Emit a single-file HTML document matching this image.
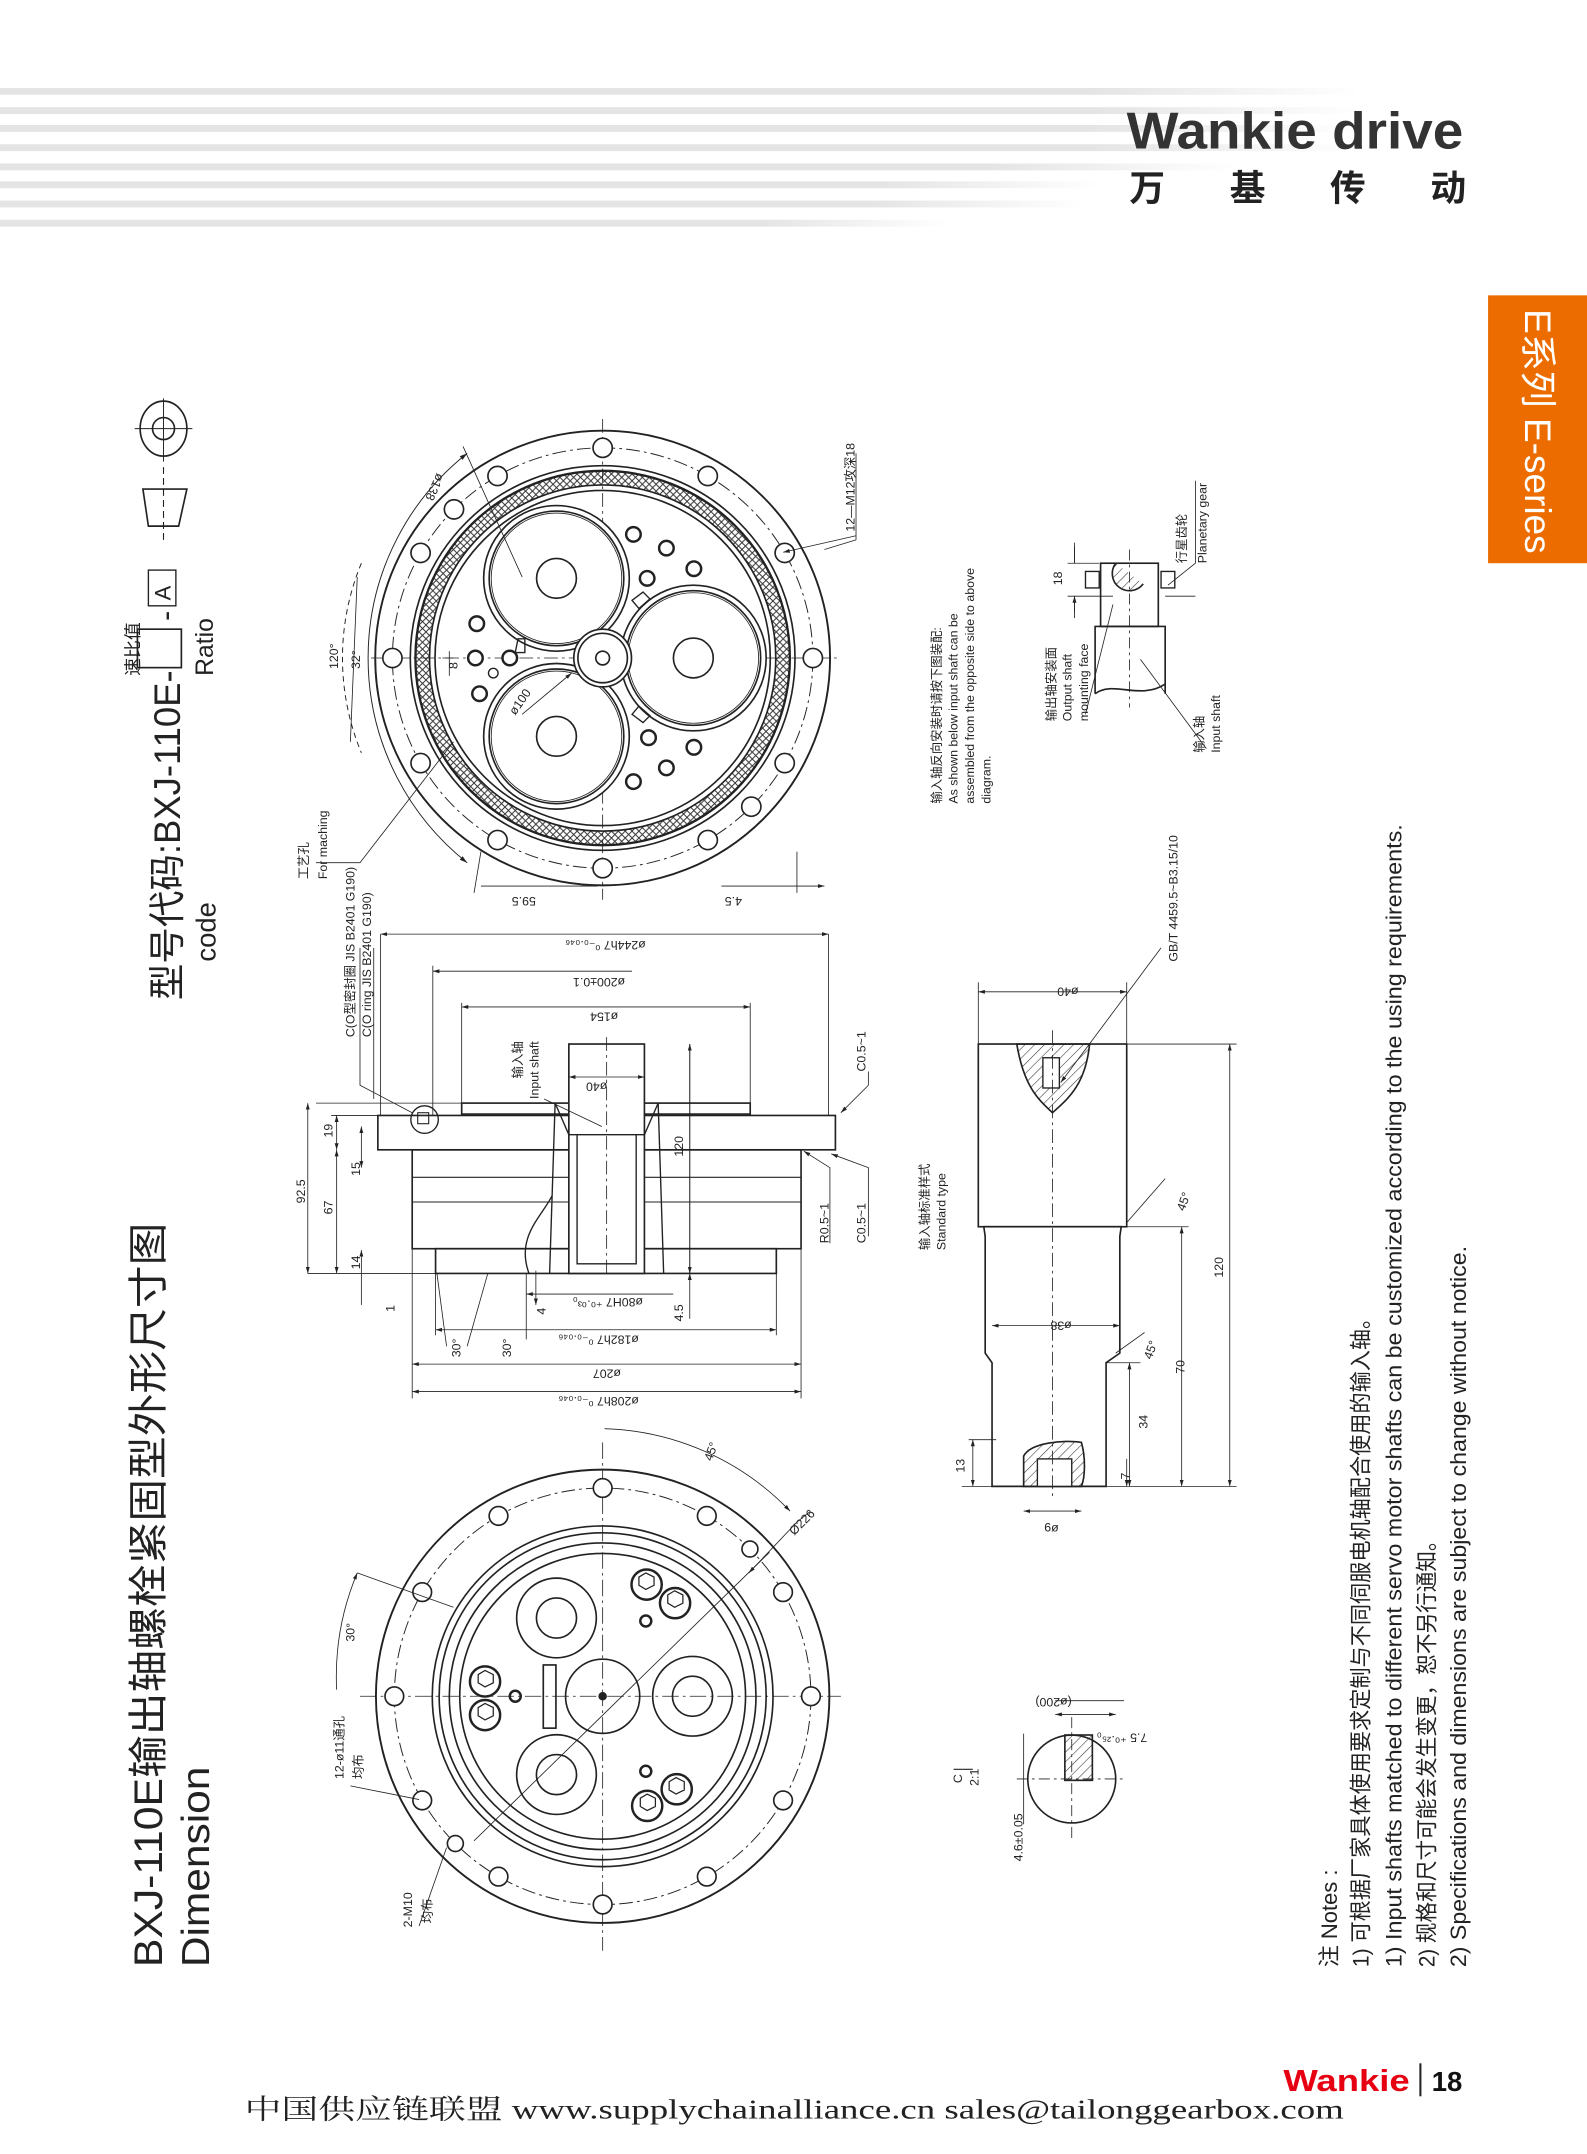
<!DOCTYPE html>
<html><head><meta charset="utf-8"><style>
html,body{margin:0;padding:0;background:#fff}
svg{display:block}
text{font-family:"Liberation Sans","Noto Sans CJK SC",sans-serif;fill:#222}
</style></head><body>
<svg width="1587" height="2154" viewBox="0 0 1155 1568" preserveAspectRatio="none" xmlns="http://www.w3.org/2000/svg">
<defs>
<linearGradient id="sg" x1="0" x2="1" y1="0" y2="0"><stop offset="0" stop-color="#e4e4e4"/><stop offset="0.8" stop-color="#e4e4e4"/><stop offset="1" stop-color="#e4e4e4" stop-opacity="0"/></linearGradient>
<pattern id="hatch" width="5" height="5" patternUnits="userSpaceOnUse"><path d="M0 0L5 5M5 0L0 5" stroke="#333" stroke-width="0.7"/></pattern>
<pattern id="diag" width="5" height="5" patternUnits="userSpaceOnUse" patternTransform="rotate(45)"><path d="M0 0V5" stroke="#333" stroke-width="0.8"/></pattern>
<marker id="ar" viewBox="0 0 10 6" refX="10" refY="3" markerWidth="8" markerHeight="5" orient="auto-start-reverse"><path d="M0 0L10 3L0 6z" fill="#222"/></marker>
</defs>
<!-- header stripes -->
<g fill="url(#sg)">
<rect x="0" y="64" width="990" height="5"/><rect x="0" y="78" width="990" height="5"/><rect x="0" y="91" width="990" height="5"/><rect x="0" y="105" width="990" height="5"/>
<rect x="0" y="119" width="900" height="5"/><rect x="0" y="132" width="800" height="5"/><rect x="0" y="146" width="790" height="5"/><rect x="0" y="160" width="690" height="5"/>
</g>
<text x="820" y="108" font-size="38" font-weight="bold" fill="#333" textLength="245" lengthAdjust="spacingAndGlyphs" style="fill:#333">Wankie drive</text>
<g font-size="26" font-weight="bold" style="fill:#333"><text x="822" y="146">万</text><text x="895" y="146">基</text><text x="968" y="146">传</text><text x="1041" y="146">动</text></g>
<!-- orange tab -->
<rect x="1083" y="215" width="72" height="195" fill="#ec6c00"/>
<text transform="translate(1110,225) rotate(90)" font-size="27" style="fill:#fff" textLength="178" lengthAdjust="spacingAndGlyphs">E系列  E-series</text>

<!-- titles -->
<text transform="translate(118,1432) rotate(-90)" font-size="29" textLength="542" lengthAdjust="spacingAndGlyphs">BXJ-110E输出轴螺栓紧固型外形尺寸图</text>
<text transform="translate(152,1432) rotate(-90)" font-size="28" textLength="146" lengthAdjust="spacingAndGlyphs">Dimension</text>
<text transform="translate(131,728) rotate(-90)" font-size="27" textLength="240" lengthAdjust="spacingAndGlyphs">型号代码:BXJ-110E-</text>
<rect x="100" y="458" width="32" height="28" fill="none" stroke="#222" stroke-width="1.2"/>
<text transform="translate(128,452) rotate(-90)" font-size="22">-</text>
<rect x="108" y="415" width="20" height="26" fill="none" stroke="#222" stroke-width="1"/>
<text transform="translate(124,437) rotate(-90)" font-size="16">A</text>
<text transform="translate(157,700) rotate(-90)" font-size="20">code</text>
<text transform="translate(155,492) rotate(-90)" font-size="18">Ratio</text>
<text transform="translate(101,492) rotate(-90)" font-size="13">速比值</text>
<!-- symbols -->
<g stroke="#222" fill="none" stroke-width="1.2">
<ellipse cx="119" cy="312" rx="17" ry="20"/><circle cx="119" cy="312" r="8"/>
<path d="M98 312H140M119 290V336" stroke-width="0.7"/>
<path d="M104 356L136 356L130 383L108 383Z"/>
<path d="M119 340V395" stroke-dasharray="5 3" stroke-width="0.8"/>
</g>

<!-- TOP VIEW -->
<g stroke="#222" fill="none" stroke-width="1.2">
<circle cx="438.6" cy="479" r="165.5" stroke-width="1.4"/>
<circle cx="438.6" cy="479" r="153" stroke-width="0.7" stroke-dasharray="10 3 2 3"/>
<circle cx="438.6" cy="479" r="140"/>
<circle cx="438.6" cy="479" r="136.5"/>
<circle cx="438.6" cy="479" r="131" stroke="url(#hatch)" stroke-width="10"/>
<circle cx="438.6" cy="479" r="136"/>
<circle cx="438.6" cy="479" r="126"/>
<circle cx="438.6" cy="479" r="122"/>
<path d="M270 479H612M438.6 305V655" stroke-width="0.6" stroke-dasharray="10 3 2 3"/>
<g fill="#fff">
<circle cx="591.6" cy="479" r="7"/><circle cx="571.1" cy="402.5" r="7"/><circle cx="515.1" cy="346.5" r="7"/><circle cx="438.6" cy="326" r="7"/><circle cx="362.1" cy="346.5" r="7"/><circle cx="306.1" cy="402.5" r="7"/><circle cx="285.6" cy="479" r="7"/><circle cx="306.1" cy="555.5" r="7"/><circle cx="362.1" cy="611.5" r="7"/><circle cx="438.6" cy="632" r="7"/><circle cx="515.1" cy="611.5" r="7"/><circle cx="571.1" cy="555.5" r="7"/><circle cx="330.4" cy="370.8" r="7"/><circle cx="546.8" cy="587.2" r="7"/>
</g>
<g fill="#fff">
<circle cx="405" cy="421" r="53"/><circle cx="405" cy="421" r="49"/><circle cx="405" cy="421" r="47.5" stroke-width="0.6"/>
<circle cx="504.6" cy="479" r="53"/><circle cx="504.6" cy="479" r="49"/><circle cx="504.6" cy="479" r="47.5" stroke-width="0.6"/>
<circle cx="405" cy="536" r="53"/><circle cx="405" cy="536" r="49"/><circle cx="405" cy="536" r="47.5" stroke-width="0.6"/>
</g>
<circle cx="405" cy="421" r="14.5"/><circle cx="504.6" cy="479" r="14.5"/><circle cx="405" cy="536" r="14.5"/>
<circle cx="438.6" cy="479" r="21" fill="#fff"/><circle cx="438.6" cy="479" r="18"/><circle cx="438.6" cy="479" r="5"/>
<g stroke-width="1.8" fill="#fff">
<circle cx="461" cy="389" r="5.3"/><circle cx="485" cy="399" r="5.3"/><circle cx="505" cy="414" r="5.3"/><circle cx="471" cy="421" r="5.3"/>
<circle cx="347" cy="454" r="5.3"/><circle cx="346" cy="479" r="5.3"/><circle cx="371" cy="479" r="5.3"/><circle cx="349" cy="505" r="5.3"/><circle cx="359" cy="490" r="3.5" stroke-width="1"/>
<circle cx="472" cy="537" r="5.3"/><circle cx="505" cy="544" r="5.3"/><circle cx="485" cy="559" r="5.3"/><circle cx="461" cy="569" r="5.3"/>
</g>
<path d="M375 475h7v-10h-5z M460 437l8 -6 5 5 -8 7z M460 520l8 6 5 -5 -8 -7z" stroke-width="1"/>
<!-- dimension arcs -->
<path d="M340 330 A190 190 0 0 0 340 628" stroke-width="0.7" marker-start="url(#ar)" marker-end="url(#ar)"/>
<path d="M263 410 A180 180 0 0 0 263 548" stroke-width="0.7" stroke-dasharray="4 3"/>
<path d="M260 420 L255 540" stroke-width="0.6"/>
<path d="M337 325L380 420M600 400L623 393M623 393V330M350 620L345 650M580 620L580 650" stroke-width="0.6"/>
<path d="M350 645H435M525 645H600" stroke-width="0.6" marker-end="url(#ar)"/>
<path d="M570 402L623 390" stroke-width="0.6" marker-start="url(#ar)"/>
<path d="M327 474V492M330 479h-8" stroke-width="0.6"/>
<path d="M380 520L416 490" stroke-width="0.6" marker-end="url(#ar)"/>
<path d="M230 628L262 628L330 540" stroke-width="0.6"/>
</g>
<g font-size="9">
<text transform="translate(318,344) rotate(115)">ø138</text>
<text transform="translate(246,487) rotate(-90)">120°</text>
<text transform="translate(262,487) rotate(-90)">32°</text>
<text transform="translate(333,487) rotate(-90)">8</text>
<text transform="translate(375,521) rotate(-55)">ø100</text>
<text transform="translate(390,653) rotate(180)">59.5</text>
<text transform="translate(540,653) rotate(180)">4.5</text>
<text transform="translate(622,387) rotate(-90)">12—M12攻深18</text>
<text transform="translate(224,640) rotate(-90)">工艺孔</text>
<text transform="translate(238,640) rotate(-90)">For maching</text>
</g>

<!-- SIDE VIEW -->
<g stroke="#222" fill="none" stroke-width="1.2">
<rect x="275" y="812" width="333" height="25"/>
<rect x="300" y="837" width="283" height="72"/>
<rect x="317" y="909" width="248" height="18"/>
<rect x="336" y="803" width="210" height="8"/>
<path d="M300 857H583M300 875H583" stroke-width="0.8"/>
<rect x="414" y="760" width="55" height="167" fill="#fff"/>
<path d="M414 826H469M420 826V920H463V826M404 803L414 826M479 803L469 826M404 803L400 927M479 803L483 927M385 927C375 900 395 885 402 870" stroke-width="1"/>
<path d="M441.5 755V930" stroke-width="0.6" stroke-dasharray="10 3 2 3"/>
<circle cx="309" cy="815" r="10" stroke-width="1"/><rect x="304" y="810" width="8" height="8" stroke-width="0.8"/>
<g stroke-width="0.6">
<path d="M277 812V680M603 812V680M315 812V703M336 803V730M546 803V730M317 927V972M565 927V972M300 909V1018M583 909V1018M383 927V975M502 760V927M230 803H336M241 812H275M224 927H317"/>
<path d="M277 680H603" marker-start="url(#ar)" marker-end="url(#ar)"/>
<path d="M315 707H460" marker-start="url(#ar)"/>
<path d="M336 733H546" marker-start="url(#ar)" marker-end="url(#ar)"/>
<path d="M414 784H469" marker-start="url(#ar)" marker-end="url(#ar)"/>
<path d="M383 942H490" marker-start="url(#ar)"/>
<path d="M317 968H565" marker-start="url(#ar)" marker-end="url(#ar)"/>
<path d="M300 993H583" marker-start="url(#ar)" marker-end="url(#ar)"/>
<path d="M300 1013H583" marker-start="url(#ar)" marker-end="url(#ar)"/>
<path d="M224 803V927" marker-start="url(#ar)" marker-end="url(#ar)"/>
<path d="M245 812V837" marker-start="url(#ar)" marker-end="url(#ar)"/>
<path d="M245 837V927" marker-start="url(#ar)" marker-end="url(#ar)"/>
<path d="M263 820V850" marker-start="url(#ar)" marker-end="url(#ar)"/>
<path d="M263 910V950" marker-start="url(#ar)"/>
<path d="M502 760V927" marker-start="url(#ar)" marker-end="url(#ar)"/>
<path d="M502 927V960" marker-start="url(#ar)"/>
<path d="M390 925V950" marker-end="url(#ar)"/>
<path d="M318 927L325 980M355 927L340 980"/>
<path d="M632 790V780M632 790L612 810" marker-end="url(#ar)"/>
<path d="M632 900V850L605 840" marker-end="url(#ar)"/>
<path d="M604 905V850L585 838" marker-end="url(#ar)"/>
<path d="M262 690V790L300 810M272 690V800"/>
<path d="M396 800L438 820"/>
</g>
</g>
<g font-size="9">
<text transform="translate(470,685) rotate(180)">ø244h7 ⁰₋₀.₀₄₆</text>
<text transform="translate(455,712) rotate(180)">ø200±0.1</text>
<text transform="translate(450,737) rotate(180)">ø154</text>
<text transform="translate(442,788) rotate(180)">ø40</text>
<text transform="translate(468,945) rotate(180)">ø80H7 ⁺⁰·⁰³₀</text>
<text transform="translate(465,972) rotate(180)">ø182h7 ⁰₋₀.₀₄₆</text>
<text transform="translate(452,997) rotate(180)">ø207</text>
<text transform="translate(465,1017) rotate(180)">ø208h7 ⁰₋₀.₀₄₆</text>
<text transform="translate(222,876) rotate(-90)">92.5</text>
<text transform="translate(242,884) rotate(-90)">67</text>
<text transform="translate(242,828) rotate(-90)">19</text>
<text transform="translate(262,856) rotate(-90)">15</text>
<text transform="translate(262,924) rotate(-90)">14</text>
<text transform="translate(287,955) rotate(-90)">1</text>
<text transform="translate(397,957) rotate(-90)">4</text>
<text transform="translate(497,962) rotate(-90)">4.5</text>
<text transform="translate(497,842) rotate(-90)">120</text>
<text transform="translate(335,988) rotate(-90)">30°</text>
<text transform="translate(372,988) rotate(-90)">30°</text>
<text transform="translate(258,755) rotate(-90)">C(O型密封圈 JIS B2401 G190)</text>
<text transform="translate(270,755) rotate(-90)">C(O ring JIS B2401 G190)</text>
<text transform="translate(380,785) rotate(-90)">输入轴</text>
<text transform="translate(392,800) rotate(-90)">Input shaft</text>
<text transform="translate(630,780) rotate(-90)">C0.5~1</text>
<text transform="translate(630,905) rotate(-90)">C0.5~1</text>
<text transform="translate(603,905) rotate(-90)">R0.5~1</text>
</g>

<!-- BOTTOM VIEW -->
<g stroke="#222" fill="none" stroke-width="1.2">
<circle cx="438.6" cy="1234.8" r="165" stroke-width="1.4"/>
<circle cx="438.6" cy="1234.8" r="151.6" stroke-width="0.7" stroke-dasharray="10 3 2 3"/>
<circle cx="438.6" cy="1234.8" r="124"/><circle cx="438.6" cy="1234.8" r="119"/><circle cx="438.6" cy="1234.8" r="111.6"/><circle cx="438.6" cy="1234.8" r="104"/>
<path d="M262 1234.8H612M438.6 1050V1420" stroke-width="0.6" stroke-dasharray="12 3 2 3"/>
<g fill="#fff">
<circle cx="590.2" cy="1234.8" r="6.8"/><circle cx="569.9" cy="1159" r="6.8"/><circle cx="514.4" cy="1103.5" r="6.8"/><circle cx="438.6" cy="1083.2" r="6.8"/><circle cx="362.8" cy="1103.5" r="6.8"/><circle cx="307.3" cy="1159" r="6.8"/><circle cx="287" cy="1234.8" r="6.8"/><circle cx="307.3" cy="1310.6" r="6.8"/><circle cx="362.8" cy="1366.1" r="6.8"/><circle cx="438.6" cy="1386.4" r="6.8"/><circle cx="514.4" cy="1366.1" r="6.8"/><circle cx="569.9" cy="1310.6" r="6.8"/><circle cx="545.8" cy="1127.6" r="5.8"/><circle cx="331.4" cy="1342" r="5.8"/>
</g>
<circle cx="438.6" cy="1234.8" r="27"/><circle cx="438.6" cy="1234.8" r="2.5" fill="#222"/>
<circle cx="405" cy="1177.8" r="29"/><circle cx="405" cy="1177.8" r="14.6"/>
<circle cx="405" cy="1291.8" r="29"/><circle cx="405" cy="1291.8" r="14.6"/>
<circle cx="504" cy="1234.8" r="29"/><circle cx="504" cy="1234.8" r="14.6"/>
<rect x="395.4" y="1212" width="9.2" height="46"/>
<g stroke-width="1.8"><circle cx="470.6" cy="1153.5" r="11"/><circle cx="491.3" cy="1167" r="11"/><circle cx="353" cy="1224" r="11"/><circle cx="353" cy="1248.5" r="11"/><circle cx="492.5" cy="1302.5" r="11"/><circle cx="471" cy="1314.6" r="11"/>
<circle cx="470" cy="1180" r="4"/><circle cx="375" cy="1234.8" r="4"/><circle cx="470" cy="1289.4" r="4"/></g>
<g stroke-width="0.9"><path d="M465 1148l5-3 6 3v6l-6 3-5-3z M486 1161l5-3 6 3v6l-6 3-5-3z M348 1219l5-3 6 3v6l-6 3-5-3z M348 1243l5-3 6 3v6l-6 3-5-3z M487 1297l5-3 6 3v6l-6 3-5-3z M466 1309l5-3 6 3v6l-6 3-5-3z"/></g>
<path d="M345 1340L560 1130" stroke-width="0.6"/>
<path d="M545 1145L580 1108" stroke-width="0.6" marker-start="url(#ar)"/>
<path d="M580 1108L590 1100" stroke-width="0.6"/>
<path d="M440 1040A195 195 0 0 1 575 1100" stroke-width="0.6" marker-end="url(#ar)"/>
<path d="M260 1145A195 195 0 0 0 245 1230" stroke-width="0.6" marker-start="url(#ar)"/>
<path d="M260 1145L330 1170M255 1300L305 1310M305 1402L325 1345" stroke-width="0.6"/>
</g>
<g font-size="9">
<text transform="translate(518,1064) rotate(-70)">45°</text>
<text transform="translate(578,1118) rotate(-45)">Ø226</text>
<text transform="translate(258,1195) rotate(-90)">30°</text>
<text transform="translate(250,1295) rotate(-90)">12-ø11通孔</text>
<text transform="translate(264,1295) rotate(-90)">均布</text>
<text transform="translate(300,1403) rotate(-90)">2-M10</text>
<text transform="translate(314,1400) rotate(-90)">均布</text>
</g>

<!-- right side notes -->
<g font-size="9">
<text transform="translate(685,585) rotate(-90)">输入轴反向安装时请按下图装配:</text>
<text transform="translate(697,585) rotate(-90)">As shown below input shaft can be</text>
<text transform="translate(709,585) rotate(-90)">assembled from the opposite side to above</text>
<text transform="translate(721,585) rotate(-90)">diagram.</text>
<text transform="translate(768,525) rotate(-90)">输出轴安装面</text>
<text transform="translate(780,525) rotate(-90)">Output shaft</text>
<text transform="translate(792,525) rotate(-90)">mounting face</text>
<text transform="translate(876,548) rotate(-90)">输入轴</text>
<text transform="translate(888,548) rotate(-90)">Input shaft</text>
<text transform="translate(863,410) rotate(-90)">行星齿轮</text>
<text transform="translate(878,410) rotate(-90)">Planetary gear</text>
<text transform="translate(773,426) rotate(-90)">18</text>
<text transform="translate(676,910) rotate(-90)">输入轴标准样式</text>
<text transform="translate(688,910) rotate(-90)">Standard type</text>
<text transform="translate(857,700) rotate(-90)">GB/T 4459.5~B3.15/10</text>
</g>
<g stroke="#222" fill="none" stroke-width="1.2">
<rect x="801" y="410" width="42" height="46"/>
<path d="M797 505V456H848V505M797 505C810 495 830 510 848 498"/>
<path d="M790 416h10v12h-10zM845 416h10v12h-10z" stroke-width="1"/>
<path d="M812 410A12 12 0 0 0 832 425" fill="url(#diag)"/>
<path d="M822 400V515" stroke-width="0.6" stroke-dasharray="8 3 2 3"/>
<path d="M777 410H800M777 434H810M782 395V410M782 434V450" stroke-width="0.6"/>
<path d="M782 398V410M782 446V434" stroke-width="0.6" marker-end="url(#ar)"/>
<path d="M848 434H870M850 426L870 410V350M790 520L810 440M878 545L830 480" stroke-width="0.6"/>
</g>
<!-- standard shaft -->
<g stroke="#222" fill="none" stroke-width="1.2">
<rect x="712" y="760" width="108" height="133"/>
<path d="M716 893H816L815 900V985L805 992V1082H722V992L717 985V900Z"/>
<path d="M740 760C745 790 755 800 766 810C777 800 790 790 793 760Z" fill="url(#diag)"/>
<rect x="759" y="770" width="12" height="22" fill="#fff" stroke-width="1"/>
<path d="M745 1082V1060C750 1050 775 1048 787 1050C790 1060 790 1075 787 1082Z" fill="url(#diag)"/>
<rect x="755" y="1062" width="25" height="20" fill="#fff" stroke-width="1"/>
<path d="M766 750V1090" stroke-width="0.6" stroke-dasharray="10 3 2 3"/>
<g stroke-width="0.6">
<path d="M712 760V715M820 760V715M820 760H900M815 893H865M805 992H830M700 1082H900M705 1048H725"/>
<path d="M712 722H820" marker-start="url(#ar)" marker-end="url(#ar)"/>
<path d="M722 965H815" marker-start="url(#ar)" marker-end="url(#ar)"/>
<path d="M895 760V1082" marker-start="url(#ar)" marker-end="url(#ar)"/>
<path d="M860 893V1082" marker-start="url(#ar)" marker-end="url(#ar)"/>
<path d="M822 992V1082" marker-start="url(#ar)" marker-end="url(#ar)"/>
<path d="M708 1048V1082" marker-start="url(#ar)" marker-end="url(#ar)"/>
<path d="M745 1100H787" marker-start="url(#ar)" marker-end="url(#ar)"/>
<path d="M820 1062V1082" marker-end="url(#ar)"/>
<path d="M845 690L772 788" marker-end="url(#ar)"/>
<path d="M820 890L848 858M812 985L833 970"/>
</g>
</g>
<g font-size="9">
<text transform="translate(785,719) rotate(180)">ø40</text>
<text transform="translate(780,962) rotate(180)">ø38</text>
<text transform="translate(890,930) rotate(-90)">120</text>
<text transform="translate(862,1000) rotate(-90)">70</text>
<text transform="translate(835,1040) rotate(-90)">34</text>
<text transform="translate(822,1077) rotate(-90)">7</text>
<text transform="translate(702,1072) rotate(-90)">13</text>
<text x="760" y="1115">6ø</text>
<text transform="translate(862,882) rotate(-70)">45°</text>
<text transform="translate(838,990) rotate(-70)">45°</text>
</g>
<!-- section C -->
<g stroke="#222" fill="none" stroke-width="1.2">
<circle cx="780" cy="1295" r="32"/>
<rect x="775" y="1263" width="20" height="33" fill="url(#diag)"/>
<path d="M780 1250V1340M740 1295H820" stroke-width="0.6" stroke-dasharray="8 3 2 3"/>
<path d="M745 1262V1328M768 1238H818" stroke-width="0.6"/>
<path d="M768 1248H812" stroke-width="0.6" marker-start="url(#ar)" marker-end="url(#ar)"/>
<path d="M694 1288H708" stroke-width="0.8"/>
</g>
<g font-size="9">
<text transform="translate(780,1236) rotate(180)">(ø200)</text>
<text transform="translate(835,1262) rotate(180)">7.5 ⁺⁰·²⁵₀</text>
<text transform="translate(744,1355) rotate(-90)">4.6±0.05</text>
<text transform="translate(700,1298) rotate(-90)">C</text>
<text transform="translate(712,1300) rotate(-90)">2:1</text>
</g>

<!-- notes -->
<g font-size="16">
<text transform="translate(973,1432) rotate(-90)">注 Notes :</text>
<text transform="translate(996,1432) rotate(-90)" textLength="480" lengthAdjust="spacingAndGlyphs">1) 可根据厂家具体使用要求定制与不同伺服电机轴配合使用的输入轴。</text>
<text transform="translate(1020,1432) rotate(-90)" textLength="832" lengthAdjust="spacingAndGlyphs">1) Input shafts matched to different servo motor shafts can be customized according to the using requirements.</text>
<text transform="translate(1044,1432) rotate(-90)" textLength="318" lengthAdjust="spacingAndGlyphs">2) 规格和尺寸可能会发生变更，恕不另行通知。</text>
<text transform="translate(1067,1432) rotate(-90)" textLength="525" lengthAdjust="spacingAndGlyphs">2) Specifications and dimensions are subject to change without notice.</text>
</g>

<!-- footer -->
<text x="934" y="1522" font-size="22" font-weight="bold" style="fill:#e60012" textLength="92" lengthAdjust="spacingAndGlyphs">Wankie</text>
<rect x="1033" y="1502" width="1.5" height="24" fill="#222"/>
<text x="1042" y="1522" font-size="20" font-weight="bold" style="fill:#111">18</text>
<text x="178" y="1542" font-size="20" style="fill:#222;font-family:'Liberation Serif','Noto Serif CJK SC',serif" textLength="800" lengthAdjust="spacingAndGlyphs">中国供应链联盟   www.supplychainalliance.cn   sales@tailonggearbox.com</text>
</svg>
</body></html>
